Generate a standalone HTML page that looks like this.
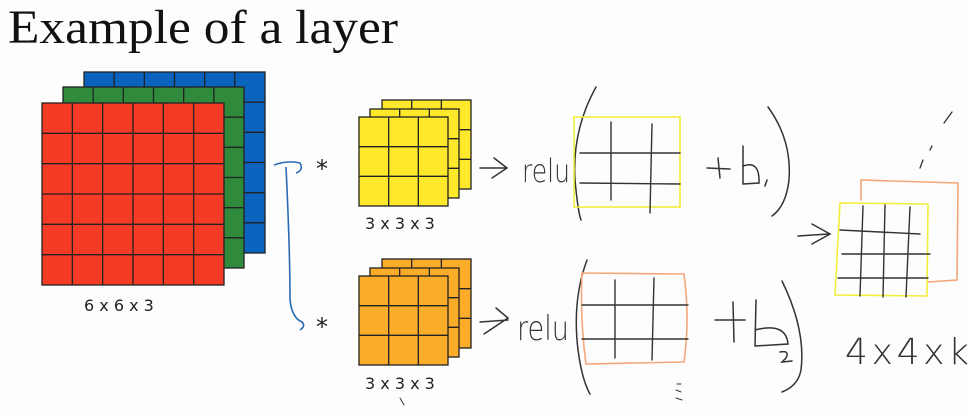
<!DOCTYPE html>
<html><head><meta charset="utf-8"><style>
body{margin:0;background:#fdfdfd;}
svg{display:block;}
</style></head><body>
<svg width="969" height="415" viewBox="0 0 969 415">
<rect width="969" height="415" fill="#fdfdfd"/>
<text x="8" y="43" font-family="Liberation Serif, serif" font-size="48" fill="#111" textLength="390" lengthAdjust="spacingAndGlyphs">Example of a layer</text>
<g id="grids" stroke="#222" stroke-width="1.3"></g>
<g font-family="DejaVu Sans, sans-serif" font-size="16" fill="#222">
<text x="84" y="311">6 x 6 x 3</text>
<text x="365" y="229">3 x 3 x 3</text>
<text x="365" y="389">3 x 3 x 3</text>
<text x="316" y="177" font-size="24">*</text>
<text x="316" y="335" font-size="24">*</text>
</g>
<path d="M274,165 Q288,160 300,163 Q304,170 296,173 M286,167 Q290,250 290,300 Q292,318 302,322 Q306,326 300,330" fill="none" stroke="#2a6ab5" stroke-width="1.6"/>
<g fill="none" stroke-linecap="round">
<path d="M480,168 L506,168 M494,158 L507,168 L492,178" stroke="#333" stroke-width="1.5"/>
<text x="522" y="182" font-family="DejaVu Sans, sans-serif" font-size="32" font-weight="200" fill="#333" stroke="none" textLength="48" lengthAdjust="spacingAndGlyphs">relu</text>
<path d="M596,87 Q572,130 575,180 Q578,212 581,220" stroke="#333" stroke-width="1.5"/>
<rect x="574" y="117" width="106" height="90" stroke="#f2ee3a" stroke-width="1.6"/>
<path d="M611,122 L611,200 M652,124 L650,213 M580,153 L680,153 M580,183 L680,184" stroke="#333" stroke-width="1.4"/>
<path d="M707,168 L730,169 M718,158 L720,178 M743,146 L743,184 M743,166 Q760,160 759,183 L743,184 M767,180 L765,186" stroke="#333" stroke-width="1.5"/>
<path d="M768,107 Q792,140 789,180 Q786,206 772,216" stroke="#333" stroke-width="1.5"/>
<path d="M480,322 L508,320 M496,308 L508,318 L484,334" stroke="#333" stroke-width="1.5"/>
<text x="517" y="340" font-family="DejaVu Sans, sans-serif" font-size="34" font-weight="200" fill="#333" stroke="none" textLength="52" lengthAdjust="spacingAndGlyphs">relu</text>
<path d="M587,260 Q572,300 578,350 Q582,380 590,394" stroke="#333" stroke-width="1.5"/>
<path d="M582,273 L684,274 Q690,320 684,362 L586,364 Q580,320 582,273 Z" stroke="#f5a77a" stroke-width="1.6"/>
<path d="M615,280 L615,358 M654,278 L652,360 M582,305 L688,305 M582,339 L688,339" stroke="#333" stroke-width="1.4"/>
<path d="M715,320 L745,320 M733,302 L734,342 M756,300 L755,346 M755,330 Q786,322 788,344 L755,346 M780,352 Q790,350 786,358 L782,362 L792,361" stroke="#333" stroke-width="1.5"/>
<path d="M782,281 Q806,330 801,370 Q798,386 782,392" stroke="#333" stroke-width="1.5"/>
<path d="M798,236 L828,234 M812,224 L830,234 L812,244" stroke="#333" stroke-width="1.5"/>
<path d="M861,200 L861,180 L958,183 L957,280 L928,282" stroke="#f5a77a" stroke-width="1.6"/>
<path d="M840,203 L928,204 L927,296 L835,295 Z" stroke="#f2ee3a" stroke-width="1.6"/>
<path d="M863,206 L860,296 M885,205 L883,297 M910,207 L906,297 M840,230 L920,234 M842,254 L930,254 M838,278 L928,278" stroke="#333" stroke-width="1.4"/>
<path d="M920,168 L923,160 M930,150 L932,146 M944,123 L952,112" stroke="#333" stroke-width="1.3"/>
<path d="M677,384 L681,384 M676,390 L681,392 M676,398 L682,400 M400,398 L404,405" stroke="#333" stroke-width="1"/>
<text x="845" y="364" font-family="DejaVu Sans, sans-serif" font-size="36" fill="#333" stroke="none" textLength="124" font-weight="200">4x4xk</text>
</g>
</svg>
<script>
const g=document.getElementById('grids');
function grid(x,y,w,n,fill,name){
  const r=document.createElementNS('http://www.w3.org/2000/svg','rect');
  r.setAttribute('x',x);r.setAttribute('y',y);r.setAttribute('width',w);r.setAttribute('height',w);r.setAttribute('fill',fill);
  
  
  g.appendChild(r);
  const c=w/n;let d='';
  for(let i=1;i<n;i++){d+=`M${x+i*c},${y}V${y+w}M${x},${y+i*c}H${x+w}`;}
  const p=document.createElementNS('http://www.w3.org/2000/svg','path');p.setAttribute('d',d);p.setAttribute('fill','none');g.appendChild(p);
}
grid(84,72,181,6,'#0a63bd','blue-channel');
grid(63,87,181,6,'#2f8a3c','green-channel');
grid(42,103,182,6,'#f53a25','red-channel');
grid(382,100,89,3,'#fde82b','filter1-back');
grid(370,109,89,3,'#fde82b','filter1-middle');
grid(359,117,89,3,'#fde82b','filter1-front');
grid(382,259,89,3,'#fbad2a','filter2-back');
grid(370,268,89,3,'#fbad2a','filter2-middle');
grid(359,276,89,3,'#fbad2a','filter2-front');
</script>
</body></html>
